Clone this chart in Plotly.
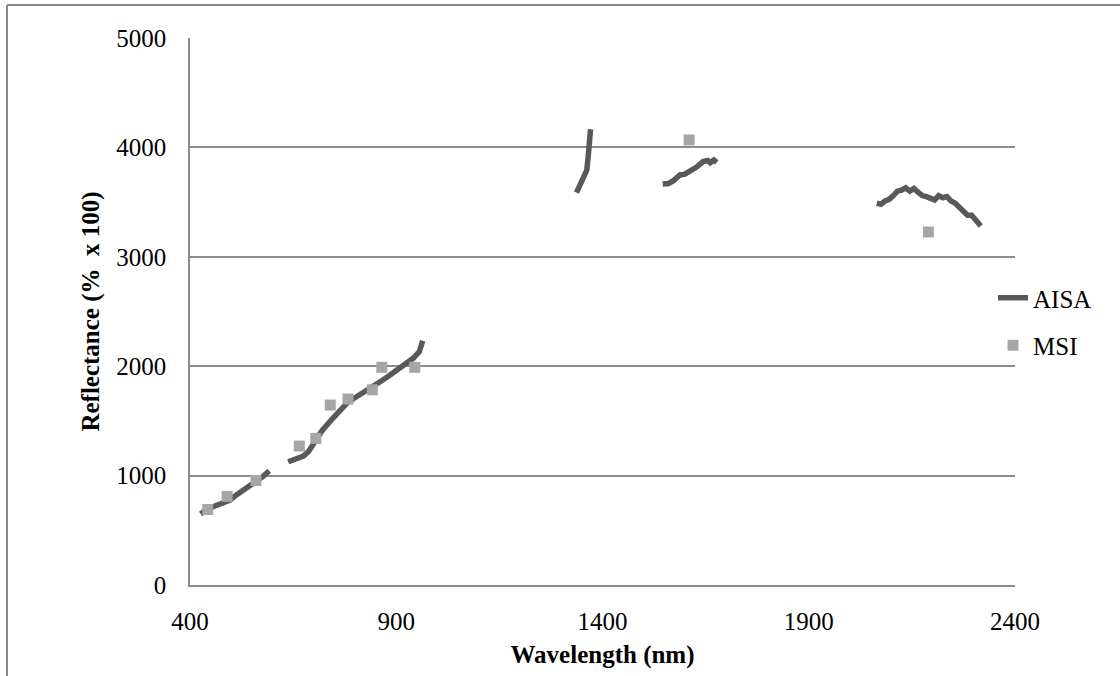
import plotly.graph_objects as go

# AISA spectrum segments (wavelength nm, reflectance % x 100)
aisa_seg1_x = [426, 440, 456, 475, 497, 515, 537, 550, 562, 578, 592]
aisa_seg1_y = [649, 690, 716, 740, 777, 830, 884, 915, 944, 995, 1045]
aisa_seg2_x = [638, 655, 675, 687, 697, 707, 720, 739, 760, 780, 795, 812, 835, 861, 880, 901, 920, 941, 956, 964]
aisa_seg2_y = [1127, 1150, 1179, 1219, 1280, 1341, 1410, 1493, 1580, 1661, 1700, 1737, 1790, 1858, 1905, 1965, 2010, 2072, 2133, 2233]
aisa_seg3_x = [1337, 1345, 1353, 1362, 1366, 1369, 1371]
aisa_seg3_y = [3586, 3650, 3702, 3793, 3946, 4060, 4165]
aisa_seg4_x = [1546, 1560, 1572, 1588, 1600, 1612, 1628, 1644, 1655, 1661, 1670, 1677]
aisa_seg4_y = [3665, 3670, 3696, 3748, 3755, 3778, 3820, 3870, 3880, 3860, 3885, 3864]
aisa_seg5_x = [2065, 2075, 2085, 2095, 2105, 2115, 2125, 2135, 2145, 2155, 2165, 2175, 2185,
               2195, 2205, 2215, 2225, 2235, 2245, 2255, 2265, 2275, 2285, 2295, 2305, 2317]
aisa_seg5_y = [3490, 3480, 3510, 3525, 3560, 3600, 3610, 3630, 3600, 3625, 3590, 3560, 3550,
               3530, 3520, 3560, 3540, 3550, 3510, 3490, 3450, 3420, 3380, 3380, 3340, 3281]

# MSI band reflectances
msi_x = [443, 490, 560, 665, 705, 740, 783, 842, 865, 945, 1610, 2190]
msi_y = [690, 810, 955, 1270, 1340, 1645, 1700, 1785, 1990, 1990, 4068, 3227]

x_ticks = [400, 900, 1400, 1900, 2400]
y_ticks = [0, 1000, 2000, 3000, 4000, 5000]

aisa_x, aisa_y = [], []
for sx, sy in [(aisa_seg1_x, aisa_seg1_y), (aisa_seg2_x, aisa_seg2_y), (aisa_seg3_x, aisa_seg3_y),
               (aisa_seg4_x, aisa_seg4_y), (aisa_seg5_x, aisa_seg5_y)]:
    aisa_x += sx + [None]
    aisa_y += sy + [None]

FONT = "Liberation Serif"
fig = go.Figure()
fig.add_trace(go.Scatter(x=aisa_x, y=aisa_y, mode="lines", name="AISA",
                         line=dict(color="#595959", width=5.5), connectgaps=False,
                         legendgroup="a"))
fig.add_trace(go.Scatter(x=msi_x, y=msi_y, mode="markers", name="MSI",
                         marker=dict(symbol="square", size=11, color="#A6A6A6"),
                         legendgroup="b"))

L, R, T, B = 190, 105, 38, 91
W, H = 1120, 676
pw, ph = W - L - R, H - T - B

fig.update_layout(
    width=W, height=H,
    margin=dict(l=L, r=R, t=T, b=B),
    paper_bgcolor="white", plot_bgcolor="white",
    font=dict(family=FONT, size=25, color="black"),
    showlegend=True,
    legend=dict(x=(993 - L) / pw, y=(585 - 275) / ph, xanchor="left", yanchor="top",
                font=dict(family=FONT, size=25), tracegroupgap=12,
                bgcolor="rgba(0,0,0,0)", traceorder="grouped"),
    xaxis=dict(range=[400, 2400], tickvals=x_ticks, ticks="", showgrid=False,
               showline=True, linecolor="#8c8c8c", linewidth=1.5, zeroline=False,
               ticklabelstandoff=13,
               title=dict(text="<b>Wavelength (nm)</b>", standoff=12,
                          font=dict(family=FONT, size=25))),
    yaxis=dict(range=[0, 5000], tickvals=y_ticks, ticks="", showgrid=True,
               gridcolor="#8c8c8c", gridwidth=1.5,
               showline=True, linecolor="#8c8c8c", linewidth=1.5, zeroline=False,
               ticklabelstandoff=17,
               title=dict(text="<b>Reflectance (%  x 100)</b>", standoff=10,
                          font=dict(family=FONT, size=25))),
    shapes=[
        dict(type="line", xref="paper", yref="paper",
             x0=(7 - L) / pw, x1=(7 - L) / pw, y0=(585 - 676) / ph, y1=(585 - 5) / ph,
             line=dict(color="#888888", width=2)),
        dict(type="line", xref="paper", yref="paper",
             x0=(7 - L) / pw, x1=(1120 - L) / pw, y0=(585 - 5) / ph, y1=(585 - 5) / ph,
             line=dict(color="#888888", width=2)),
    ],
)

fig.write_html("out.html")
